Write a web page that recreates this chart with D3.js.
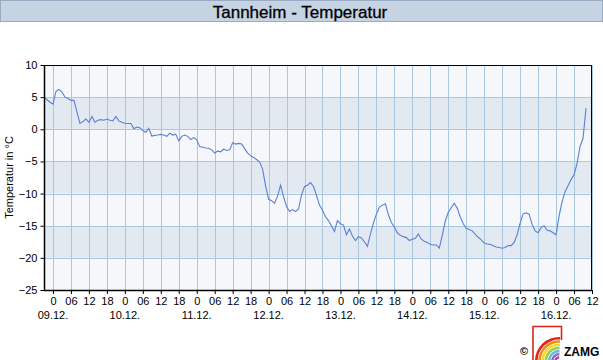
<!DOCTYPE html>
<html><head><meta charset="utf-8">
<script src="https://cdn.jsdelivr.net/npm/d3@7/dist/d3.min.js"></script>
<style>body{margin:0;background:#fff;}svg{display:block;font-family:"Liberation Sans",Arial,sans-serif;}</style>
</head><body>
<svg id="c" width="603" height="360"></svg>
<script>
const title = "Tannheim - Temperatur";
const yLabel = "Temperatur in °C";
// hours relative to 09.12. 00:00, first sample at -3 h, hourly
const startHour = -3;
const temps = [5.0,4.6,4.2,3.9,5.9,6.2,5.8,5.0,4.8,4.5,4.5,2.7,0.9,1.2,1.6,1.1,2.0,1.1,1.4,1.5,1.4,1.6,1.4,1.3,2.0,1.3,1.1,
0.95,0.9,0.9,0.1,0.35,0.25,-0.2,-0.45,0.15,-1.05,-0.95,-0.9,-0.8,-0.9,-1.1,-0.6,-0.9,-0.75,-1.8,-1.1,-0.9,-1.1,-1.6,-1.3,
-1.65,-2.7,-2.8,-2.9,-2.95,-3.2,-3.7,-3.4,-3.5,-3.1,-3.3,-3.2,-2.1,-2.3,-2.2,-2.3,-3.0,-3.7,-4.1,-4.4,-4.7,-5.1,-6.2,-8.8,
-10.9,-11.1,-11.5,-10.4,-8.7,-10.5,-12.0,-12.8,-12.5,-12.8,-12.4,-10.2,-8.9,-8.7,-8.3,-8.9,-10.3,-11.8,-12.6,-13.6,-14.2,-15.0,-15.9,
-14.2,-14.7,-14.9,-16.4,-15.5,-16.6,-17.3,-16.7,-16.9,-17.5,-18.2,-16.3,-14.6,-13.2,-12.1,-11.8,-11.6,-13.3,-14.5,-15.2,-16.1,
-16.5,-16.7,-16.85,-17.3,-17.1,-16.95,-16.3,-17.1,-17.4,-17.6,-17.9,-18.0,-18.0,-18.5,-16.5,-14.3,-12.9,-12.2,-11.5,-12.3,-13.6,
-14.7,-15.4,-15.6,-15.8,-16.3,-16.8,-17.2,-17.7,-17.85,-17.9,-18.1,-18.3,-18.4,-18.5,-18.4,-18.1,-18.1,-17.6,-16.4,-14.6,-13.15,
-13.0,-13.2,-14.8,-15.8,-16.1,-15.3,-15.0,-15.7,-15.8,-16.1,-16.4,-13.5,-11.3,-9.7,-8.8,-7.8,-7.1,-5.3,-2.7,-1.4,3.3];
const hourLabels = ["0","06","12","18"];
const dateLabels = ["09.12.","10.12.","11.12.","12.12.","13.12.","14.12.","15.12.","16.12."];
const yTicks = [10,5,0,-5,-10,-15,-20,-25];

const svg = d3.select("#c");
const L=44, R=592, T=65, B=290;
const x = d3.scaleLinear().domain([-3,180]).range([L,R]);
const y = d3.scaleLinear().domain([-25,10]).range([B,T]);

// title bar
svg.append("rect").attr("x",0.5).attr("y",0.5).attr("width",602).attr("height",21)
  .attr("fill","#c5d3e2").attr("stroke","#98abc3");
svg.append("text").attr("x",300).attr("y",17.5).attr("text-anchor","middle")
  .attr("font-size",17).attr("fill","#000").attr("stroke","#000").attr("stroke-width",0.3).text(title);

// bands
for(let v=-25; v<10; v+=5){
  const dark = (v===0||v===-10||v===-20);
  svg.append("rect").attr("x",L).attr("y",y(v+5)).attr("width",R-L).attr("height",y(v)-y(v+5))
    .attr("fill",dark?"#e3e9f1":"#f5f7fa");
}
// grid
const hTicks = d3.range(0,181,6);
svg.append("g").selectAll("line").data(hTicks).join("line")
  .attr("x1",d=>Math.round(x(d))+0.5).attr("x2",d=>Math.round(x(d))+0.5).attr("y1",T).attr("y2",B)
  .attr("stroke","#a9c7e0").attr("stroke-width",1);
svg.append("g").selectAll("line").data(yTicks.slice(1,-1)).join("line")
  .attr("x1",L).attr("x2",R).attr("y1",d=>Math.round(y(d))+0.5).attr("y2",d=>Math.round(y(d))+0.5)
  .attr("stroke","#a9c7e0").attr("stroke-width",1);

// line
const line = d3.line().x((d,i)=>x(startHour+i)).y(d=>y(d));
svg.append("path").datum(temps).attr("d",line).attr("fill","none")
  .attr("stroke","#5a80d6").attr("stroke-width",1.1);

// frame
svg.append("rect").attr("x",L+0.5).attr("y",T+0.5).attr("width",R-L-1).attr("height",B-T)
  .attr("fill","none").attr("stroke","#000").attr("stroke-width",1);
svg.append("line").attr("x1",L).attr("x2",R).attr("y1",B+0.5).attr("y2",B+0.5).attr("stroke","#000").attr("stroke-width",1.5);
svg.append("line").attr("x1",L+0.5).attr("x2",L+0.5).attr("y1",T).attr("y2",B).attr("stroke","#000").attr("stroke-width",1.5);

// y axis
const ya = svg.append("g").attr("transform",`translate(${L+0.5},0)`)
  .call(d3.axisLeft(y).tickValues(yTicks).tickSize(4).tickPadding(3).tickFormat(d3.format("d")));
ya.select(".domain").remove();
ya.selectAll("line").attr("stroke","#000");
ya.selectAll("text").attr("font-size",11).attr("font-family","Liberation Sans, Arial, sans-serif").attr("fill","#000");

// x axis
const xa = svg.append("g").attr("transform",`translate(0,${B})`)
  .call(d3.axisBottom(x).tickValues(hTicks).tickSize(4).tickPadding(3)
    .tickFormat(d=>hourLabels[(d/6)%4]));
xa.select(".domain").remove();
xa.selectAll("line").attr("stroke","#000");
xa.selectAll("text").attr("font-size",11).attr("font-family","Liberation Sans, Arial, sans-serif").attr("fill","#000");
svg.append("g").selectAll("text").data(dateLabels).join("text")
  .attr("x",(d,i)=>x(i*24)).attr("y",319).attr("text-anchor","middle")
  .attr("font-size",11).attr("fill","#000").text(d=>d);

// y label
svg.append("text").attr("transform","translate(13,177.5) rotate(-90)").attr("text-anchor","middle")
  .attr("font-size",11).attr("fill","#000").text(yLabel);

// logo
const lg = svg.append("g");
lg.append("text").attr("x",520).attr("y",355).attr("font-size",11).attr("font-weight","bold").text("©");
const cols = ["#e3241b","#f08a1c","#f5d92a","#9ccf55","#6fb8e3","#8a6fc4","#b04aa0"];
cols.forEach((c,i)=>{
  lg.append("path").attr("d",d3.arc()({innerRadius:24-i*3.2-2.6,outerRadius:24-i*3.2,startAngle:-Math.PI/2,endAngle:0.05}))
    .attr("transform","translate(559,361)").attr("fill",c);
});
lg.append("path").attr("d","M533,360 V326.5 H561.5 V340").attr("fill","none").attr("stroke","#d8261c").attr("stroke-width",1.6);
lg.append("text").attr("x",564).attr("y",356).attr("font-size",12).attr("font-weight","bold").text("ZAMG");
</script>
</body></html>
